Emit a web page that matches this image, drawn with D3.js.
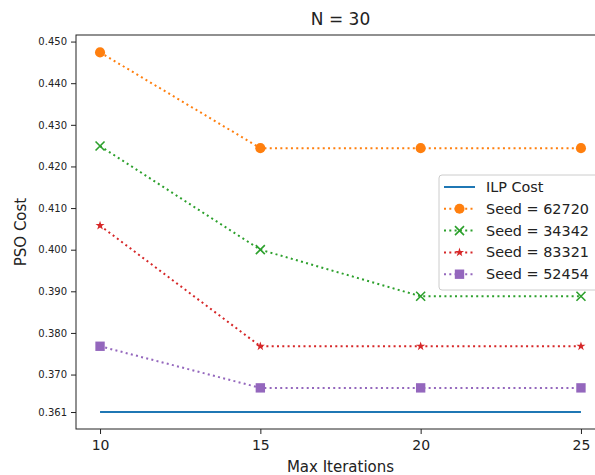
<!DOCTYPE html>
<html>
<head>
<meta charset="utf-8">
<script src="https://cdn.jsdelivr.net/npm/d3@7"></script>
<style>
  body { margin: 0; background: #fff; }
  svg text { font-family: "DejaVu Sans", sans-serif; fill: #222; }
</style>
</head>
<body>
<div id="chart"></div>
<script>
// data
var iterations = [10, 15, 20, 25];
var ilpCost = [0.361, 0.361, 0.361, 0.361];
var seed62720 = [0.4474, 0.4244, 0.4244, 0.4244];
var seed34342 = [0.4249, 0.4000, 0.3888, 0.3888];
var seed83321 = [0.4058, 0.3768, 0.3768, 0.3768];
var seed52454 = [0.3768, 0.3668, 0.3668, 0.3668];
var yTicks = [0.361, 0.370, 0.380, 0.390, 0.400, 0.410, 0.420, 0.430, 0.440, 0.450];

var series = [
  { name: 'Seed = 62720', values: seed62720, color: '#ff7f0e', marker: 'circle' },
  { name: 'Seed = 34342', values: seed34342, color: '#2ca02c', marker: 'x' },
  { name: 'Seed = 83321', values: seed83321, color: '#d62728', marker: 'star' },
  { name: 'Seed = 52454', values: seed52454, color: '#9467bd', marker: 'square' }
];

var width = 595, height = 475;
var plotL = 76, plotT = 35, plotR = 605, plotB = 429;

var x = d3.scaleLinear().domain([9.25, 25.75]).range([plotL, plotR]);
var y = d3.scaleLinear().domain([0.35692, 0.45158]).range([plotB, plotT]);

var svg = d3.select('#chart').append('svg').attr('width', width).attr('height', height);

// axes
var xAxis = svg.append('g').attr('transform', 'translate(0,' + plotB + ')')
  .call(d3.axisBottom(x).tickValues(iterations).tickSize(5).tickPadding(6));
xAxis.selectAll('text').style('font-size', '14px');
var yAxis = svg.append('g').attr('transform', 'translate(' + plotL + ',0)')
  .call(d3.axisLeft(y).tickValues(yTicks).tickFormat(d3.format('.3f')).tickSize(5).tickPadding(4));
yAxis.selectAll('text').style('font-size', '10px');
svg.selectAll('.domain').remove();
svg.selectAll('.tick line').attr('stroke', '#222');

// spines
svg.append('rect').attr('x', plotL).attr('y', plotT).attr('width', plotR - plotL).attr('height', plotB - plotT)
  .attr('fill', 'none').attr('stroke', '#222').attr('stroke-width', 1);

var line = d3.line().x(function(d, i) { return x(iterations[i]); }).y(function(d) { return y(d); });

svg.append('path').attr('d', line(ilpCost)).attr('fill', 'none')
  .attr('stroke', '#1f77b4').attr('stroke-width', 2);

function markerPath(type) {
  if (type === 'circle') return d3.symbol(d3.symbolCircle, 80)();
  if (type === 'star') return d3.symbol(d3.symbolStar, 26)();
  if (type === 'square') return d3.symbol(d3.symbolSquare, 88)();
  return 'M-4.5,-4.5L4.5,4.5M-4.5,4.5L4.5,-4.5';
}

function drawMarker(g, s, cx, cy) {
  var p = g.append('path').attr('d', markerPath(s.marker))
    .attr('transform', 'translate(' + cx + ',' + cy + ')');
  if (s.marker === 'x') p.attr('fill', 'none').attr('stroke', s.color).attr('stroke-width', 1.6);
  else p.attr('fill', s.color);
}

series.forEach(function(s) {
  svg.append('path').attr('d', line(s.values)).attr('fill', 'none')
    .attr('stroke', s.color).attr('stroke-width', 2).attr('stroke-dasharray', '2,3.3');
  var g = svg.append('g');
  s.values.forEach(function(v, i) { drawMarker(g, s, x(iterations[i]), y(v)); });
});

// title and labels
svg.append('text').attr('x', (plotL + plotR) / 2).attr('y', 25).attr('text-anchor', 'middle')
  .style('font-size', '17px').text('N = 30');
svg.append('text').attr('x', (plotL + plotR) / 2).attr('y', 472).attr('text-anchor', 'middle')
  .style('font-size', '15px').text('Max Iterations');
svg.append('text').attr('transform', 'translate(26,' + (plotT + plotB) / 2 + ') rotate(-90)')
  .attr('text-anchor', 'middle').style('font-size', '15px').text('PSO Cost');

// legend
var lg = svg.append('g').attr('transform', 'translate(439,175)');
lg.append('rect').attr('width', 185).attr('height', 115).attr('rx', 3)
  .attr('fill', 'rgba(255,255,255,0.8)').attr('stroke', '#ccc');
var items = [{ name: 'ILP Cost', color: '#1f77b4', marker: null }].concat(series);
items.forEach(function(s, i) {
  var ry = 12 + i * 21.8;
  var row = lg.append('g').attr('transform', 'translate(0,' + ry + ')');
  var ln = row.append('line').attr('x1', 5).attr('x2', 36).attr('y1', 0).attr('y2', 0)
    .attr('stroke', s.color).attr('stroke-width', 2);
  if (s.marker) {
    ln.attr('stroke-dasharray', '2,3.3');
    drawMarker(row, s, 20.5, 0);
  }
  row.append('text').attr('x', 47).attr('y', 0).attr('dy', '0.35em')
    .style('font-size', '14.4px').text(s.name);
});
</script>
</body>
</html>
